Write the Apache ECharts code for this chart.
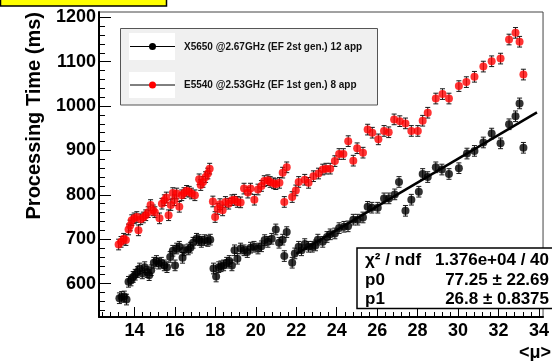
<!DOCTYPE html>
<html>
<head>
<meta charset="utf-8">
<script src="https://cdn.jsdelivr.net/npm/echarts@6/dist/echarts.min.js"></script>
<style>
  html, body { margin: 0; padding: 0; background: #fff; }
  #chart { width: 552px; height: 361px; }
</style>
</head>
<body>
<div id="chart"></div>
<script>
// X5650 @2.67GHz (EF 2st gen.) 12 app
const blackMu = [13.26, 13.37, 13.5, 13.61, 13.71, 13.83, 13.94, 14.04, 14.15, 14.26, 14.39, 14.51, 14.63, 14.73, 14.83, 14.96,
  15.09, 15.2, 15.33, 15.48, 15.61, 15.77, 15.9, 16.01, 16.09, 16.22, 16.38, 16.45, 16.66, 16.77, 16.9, 17.07, 17.2, 17.31,
  17.47, 17.63, 17.75, 17.91, 18.04, 18.17, 18.28, 18.41, 18.56, 18.69, 18.82, 18.95, 19.09, 19.25, 19.42, 19.58, 19.74,
  19.91, 20.11, 20.28, 20.44, 20.6, 20.79, 20.99, 21.15, 21.33, 21.41, 21.53, 21.8, 21.93, 22.12, 22.26, 22.42, 22.61,
  22.79, 22.95, 23.07, 23.31, 23.52, 23.68, 23.91, 24.12, 24.36, 24.56, 24.82, 25.04, 25.3, 25.53, 25.74, 26.03, 26.34,
  26.58, 26.87, 27.08, 27.4, 27.69, 28.06, 28.25, 28.5, 28.9, 29.2, 29.55, 30.04, 30.44, 30.81, 31.25, 31.66, 32.1,
  32.52, 32.84, 33.04, 33.23];
const blackTime = [567, 570, 571, 564, 604, 607, 615, 620, 626, 634, 623, 637, 626, 619, 630, 647,
  651, 645, 647, 641, 637, 660, 674, 641, 679, 683, 658, 675, 677, 681, 692, 701, 698, 694,
  698, 696, 699, 634, 616, 637, 639, 641, 647, 651, 641, 675, 656, 679, 675, 671, 681,
  683, 679, 684, 698, 694, 701, 722, 692, 699, 662, 716, 647, 668, 683, 675, 689, 683,
  683, 686, 699, 694, 705, 711, 713, 725, 728, 729, 744, 744, 749, 773, 771, 771, 792,
  792, 801, 829, 764, 789, 807, 847, 840, 862, 857, 847, 860, 893, 899, 918, 938, 916,
  959, 977, 1006, 906];

// E5540 @2.53GHz (EF 1st gen.) 8 app
const redMu = [13.22, 13.34, 13.47, 13.58, 13.71, 13.79, 13.87, 13.99, 14.12, 14.2, 14.31, 14.44, 14.56, 14.68, 14.8, 14.93,
  15.01, 15.24, 15.36, 15.48, 15.58, 15.69, 15.8, 15.9, 15.98, 16.09, 16.22, 16.34, 16.45, 16.58, 16.71, 16.82, 16.99,
  17.2, 17.28, 17.39, 17.52, 17.63, 17.72, 17.88, 17.99, 18.12, 18.23, 18.36, 18.5, 18.66, 18.82, 18.95, 19.09, 19.25,
  19.42, 19.61, 19.74, 19.93, 20.11, 20.28, 20.42, 20.6, 20.71, 20.88, 20.99, 21.17, 21.33, 21.41, 21.53, 21.8, 21.98,
  22.12, 22.42, 22.61, 22.85, 23.1, 23.31, 23.47, 23.68, 23.91, 24.12, 24.33, 24.57, 24.82, 25.01, 25.3, 25.53, 25.76,
  26.06, 26.34, 26.57, 26.84, 27.12, 27.4, 27.69, 28.01, 28.25, 28.5, 28.9, 29.23, 29.55, 30.04, 30.41, 30.81, 31.25,
  31.66, 32.1, 32.52, 32.84, 33.04, 33.23];
const redTime = [688, 694, 701, 698, 722, 731, 743, 747, 750, 720, 745, 749, 754, 761, 777, 765,
  761, 747, 780, 788, 794, 754, 777, 804, 788, 803, 773, 799, 804, 809, 807, 803, 799,
  835, 822, 829, 840, 848, 859, 785, 750, 768, 779, 765, 784, 780, 788, 789, 784, 783,
  814, 805, 814, 789, 812, 820, 831, 833, 829, 826, 824, 827, 850, 784, 862, 795, 810,
  829, 834, 827, 842, 848, 857, 859, 859, 876, 892, 892, 921, 877, 905, 895, 947, 940,
  925, 944, 941, 970, 966, 961, 944, 944, 967, 985, 1017, 1027, 1017, 1045, 1054, 1066, 1089,
  1101, 1107, 1150, 1165, 1145, 1071];

const errHalf = 12;

// pol1 fit on the black graph
const fitP0 = 77.25;
const fitP1 = 26.8;
const fitRange = [22, 33.9];

const xTickLabels = [14, 16, 18, 20, 22, 24, 26, 28, 30, 32, 34];
const yTickLabels = [600, 700, 800, 900, 1000, 1100, 1200];

const xMin = 12.25, xMax = 34.2;
const yMin = 524.7, yMax = 1212;

const minorX = [];
for (let v = 12.4; v < xMax; v += 0.4) minorX.push(+v.toFixed(1));
const minorY = [];
for (let v = 540; v < yMax; v += 20) minorY.push(v);

const blackData = blackMu.map((m, i) => [m, blackTime[i]]);
const redData = redMu.map((m, i) => [m, redTime[i]]);
const fitData = fitRange.map(m => [m, fitP0 + fitP1 * m]);

const font = '"Liberation Sans", Arial, sans-serif';

function errorBars(params, api) {
    const x = api.value(0);
    const y = api.value(1);
    const top = api.coord([x, y + errHalf]);
    const bot = api.coord([x, y - errHalf]);
    const cap = 2.5;
    const st = { stroke: '#1a1a1a', lineWidth: 1 };
    return {
        type: 'group',
        children: [
            { type: 'line', shape: { x1: top[0], y1: top[1], x2: bot[0], y2: bot[1] }, style: st },
            { type: 'line', shape: { x1: top[0] - cap, y1: top[1], x2: top[0] + cap, y2: top[1] }, style: st },
            { type: 'line', shape: { x1: bot[0] - cap, y1: bot[1], x2: bot[0] + cap, y2: bot[1] }, style: st }
        ]
    };
}

const chart = echarts.init(document.getElementById('chart'), null, { renderer: 'canvas' });

const mainX = {
    type: 'value', min: xMin, max: xMax, position: 'bottom',
    axisLine: { show: true, lineStyle: { color: '#000', width: 2 } },
    axisTick: { show: true, inside: true, length: 10, customValues: xTickLabels, lineStyle: { color: '#000', width: 1 } },
    axisLabel: { show: true, customValues: xTickLabels, formatter: v => String(v), margin: 5, color: '#000', fontSize: 18, fontWeight: 'bold', fontFamily: font },
    splitLine: { show: false }
};
const minorXAxis = {
    type: 'value', min: xMin, max: xMax, position: 'bottom',
    axisLine: { show: false },
    axisTick: { show: true, inside: true, length: 5, customValues: minorX, lineStyle: { color: '#000', width: 1 } },
    axisLabel: { show: false },
    splitLine: { show: false }
};
const mainY = {
    type: 'value', min: yMin, max: yMax, position: 'left',
    axisLine: { show: true, lineStyle: { color: '#000', width: 2 } },
    axisTick: { show: true, inside: true, length: 12, customValues: yTickLabels, lineStyle: { color: '#000', width: 1 } },
    axisLabel: { show: true, customValues: yTickLabels, formatter: v => String(v), margin: 3, color: '#000', fontSize: 18, fontWeight: 'bold', fontFamily: font },
    splitLine: { show: false }
};
const minorYAxis = {
    type: 'value', min: yMin, max: yMax, position: 'left',
    axisLine: { show: false },
    axisTick: { show: true, inside: true, length: 6, customValues: minorY, lineStyle: { color: '#000', width: 1 } },
    axisLabel: { show: false },
    splitLine: { show: false }
};

chart.setOption({
    animation: false,
    backgroundColor: '#fff',
    grid: { left: 99, right: 1.5, top: 12, bottom: 44, show: true, borderColor: '#444', borderWidth: 1 },
    xAxis: [mainX, minorXAxis],
    yAxis: [mainY, minorYAxis],
    series: [
        { type: 'custom', renderItem: errorBars, data: blackData, z: 2, clip: true },
        { type: 'custom', renderItem: errorBars, data: redData, z: 2, clip: true },
        { type: 'scatter', data: blackData, symbol: 'circle', symbolSize: 8, itemStyle: { color: '#000' }, z: 3 },
        { type: 'scatter', data: redData, symbol: 'circle', symbolSize: 8, itemStyle: { color: '#ff0000' }, z: 3 },
        { type: 'line', data: fitData, symbol: 'none', lineStyle: { color: '#000', width: 2.5 }, z: 4 }
    ],
    graphic: [
        // title box (cut at the top)
        { type: 'rect', z: 100, shape: { x: 0.5, y: -10, width: 166, height: 16 }, style: { fill: '#ffff00', stroke: '#000', lineWidth: 1.5 } },
        // legend
        { type: 'rect', z: 100, shape: { x: 120.5, y: 28.5, width: 257, height: 76.5 }, style: { fill: '#f0f0f0', stroke: '#555', lineWidth: 1 } },
        { type: 'rect', z: 101, shape: { x: 129, y: 33, width: 46, height: 27 }, style: { fill: '#fff' } },
        { type: 'rect', z: 101, shape: { x: 129, y: 72, width: 46, height: 26 }, style: { fill: '#fff' } },
        { type: 'line', z: 102, shape: { x1: 130, y1: 46.5, x2: 175, y2: 46.5 }, style: { stroke: '#000', lineWidth: 1 } },
        { type: 'line', z: 102, shape: { x1: 130, y1: 85, x2: 175, y2: 85 }, style: { stroke: '#000', lineWidth: 1 } },
        { type: 'circle', z: 103, shape: { cx: 152.5, cy: 46.5, r: 3.5 }, style: { fill: '#000' } },
        { type: 'circle', z: 103, shape: { cx: 152.5, cy: 85, r: 3.5 }, style: { fill: '#ff0000' } },
        { type: 'text', z: 103, x: 184, y: 47, style: { text: 'X5650 @2.67GHz (EF 2st gen.) 12 app', font: 'bold 10px ' + font, fill: '#111', textVerticalAlign: 'middle' } },
        { type: 'text', z: 103, x: 184, y: 85.5, style: { text: 'E5540 @2.53GHz (EF 1st gen.) 8 app', font: 'bold 10px ' + font, fill: '#111', textVerticalAlign: 'middle' } },
        // fit statistics box
        { type: 'rect', z: 100, shape: { x: 357, y: 248, width: 200, height: 60.5 }, style: { fill: '#fff', stroke: '#000', lineWidth: 1.5 } },
        { type: 'text', z: 101, x: 365, y: 260, style: { text: 'χ² / ndf', font: 'bold 17px ' + font, fill: '#000', textVerticalAlign: 'middle' } },
        { type: 'text', z: 101, x: 549, y: 260, style: { text: '1.376e+04 / 40', font: 'bold 17px ' + font, fill: '#000', textAlign: 'right', textVerticalAlign: 'middle' } },
        { type: 'text', z: 101, x: 365, y: 280, style: { text: 'p0', font: 'bold 17px ' + font, fill: '#000', textVerticalAlign: 'middle' } },
        { type: 'text', z: 101, x: 549, y: 280, style: { text: '77.25 ± 22.69', font: 'bold 17px ' + font, fill: '#000', textAlign: 'right', textVerticalAlign: 'middle' } },
        { type: 'text', z: 101, x: 365, y: 299, style: { text: 'p1', font: 'bold 17px ' + font, fill: '#000', textVerticalAlign: 'middle' } },
        { type: 'text', z: 101, x: 549, y: 299, style: { text: '26.8 ± 0.8375', font: 'bold 17px ' + font, fill: '#000', textAlign: 'right', textVerticalAlign: 'middle' } },
        // axis titles
        { type: 'text', z: 101, x: 34, y: 12, rotation: Math.PI / 2, style: { text: 'Processing Time (ms)', font: 'bold 20px ' + font, fill: '#000', textAlign: 'right', textVerticalAlign: 'middle' } },
        { type: 'text', z: 101, x: 551, y: 353, style: { text: '<μ>', font: 'bold 18px ' + font, fill: '#000', textAlign: 'right', textVerticalAlign: 'middle' } }
    ]
});
</script>
</body>
</html>
